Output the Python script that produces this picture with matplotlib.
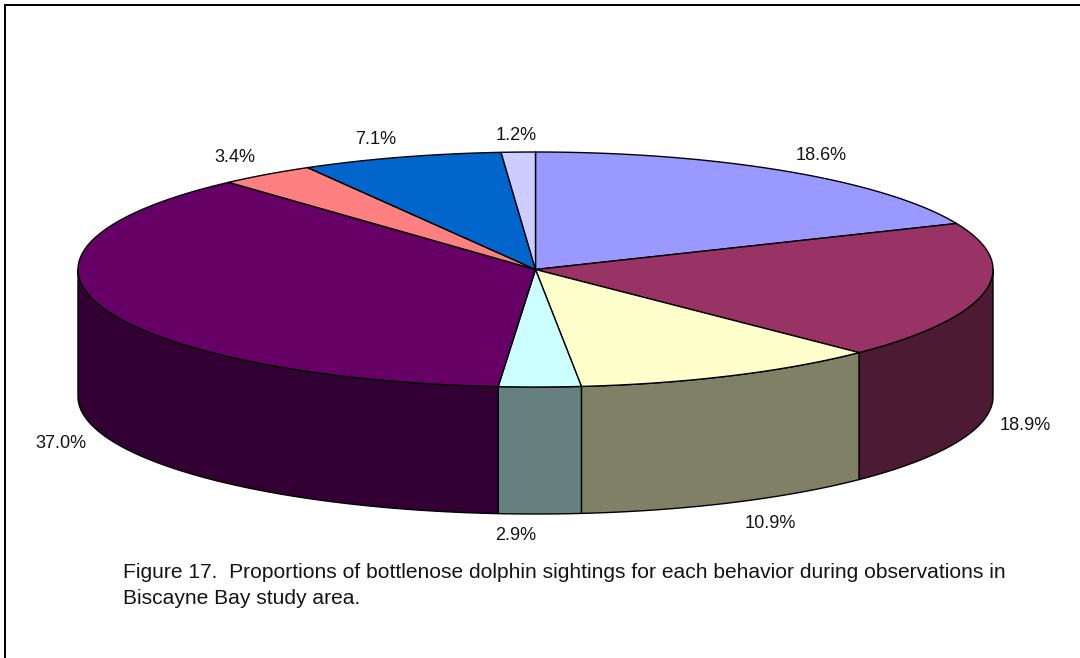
import numpy as np
import matplotlib
matplotlib.use("Agg")
import matplotlib.pyplot as plt
from matplotlib.patches import Polygon

plt.rcParams['font.family'] = ['Liberation Sans', 'DejaVu Sans']

# Share of sightings per behavior, clockwise from twelve o'clock
labels = ["18.6%", "18.9%", "10.9%", "2.9%", "37.0%", "3.4%", "7.1%", "1.2%"]
shares = [18.6, 18.9, 10.9, 2.9, 37.0, 3.4, 7.1, 1.2]
top_colors = ["#9999FF", "#993366", "#FFFFCC", "#CCFFFF",
              "#660066", "#FF8080", "#0066CC", "#CCCCFF"]
side_colors = ["#4D4D80", "#4D1A33", "#808066", "#668080",
               "#330033", "#804040", "#003366", "#666680"]
label_pos = [(821, 155), (1025, 425), (770, 523), (516, 535),
             (61, 443), (234.5, 158), (375.5, 140), (516, 135)]
caption = ("Figure 17.  Proportions of bottlenose dolphin sightings for each behavior during observations in\n"
           "Biscayne Bay study area.")
TEXT_COLOR = "#141414"

# Projection of the tilted disc, in figure pixels
CX, CY, RX, RY, DEPTH = 535.5, 269.5, 457.5, 117.5, 127.0

def rim(theta):
    """Ellipse points for angles measured clockwise from the top."""
    return CX + RX * np.sin(theta), CY - RY * np.cos(theta)

fig = plt.figure(figsize=(10.8, 6.58), dpi=100, facecolor="white")
ax = fig.add_axes([0, 0, 1, 1])
ax.set_xlim(0, 1080)
ax.set_ylim(658, 0)
ax.axis("off")

# Outer frame: heavy top and left rules, hairline on the right, open at the bottom
ax.plot([5, 5, 1080], [658, 5, 5], color="black", lw=1.44, solid_joinstyle="miter", zorder=1)
ax.plot([1079.5, 1079.5], [6, 658], color="#C8C8C8", lw=0.72, zorder=1)

edges = np.cumsum([0.0] + shares) / sum(shares) * 2 * np.pi

# Visible outer wall: only the front half of the disc
for a, b, col in zip(edges[:-1], edges[1:], side_colors):
    lo, hi = max(a, np.pi / 2), min(b, 3 * np.pi / 2)
    if hi <= lo:
        continue
    t = np.linspace(lo, hi, 200)
    x, y = rim(t)
    pts = np.r_[np.c_[x, y], np.c_[x[::-1], y[::-1] + DEPTH]]
    ax.add_patch(Polygon(pts, closed=True, fc=col, ec="black", lw=1.0, joinstyle="round", zorder=2))

# Top face wedges
for a, b, col in zip(edges[:-1], edges[1:], top_colors):
    t = np.linspace(a, b, 300)
    x, y = rim(t)
    pts = np.r_[[[CX, CY]], np.c_[x, y]]
    ax.add_patch(Polygon(pts, closed=True, fc=col, ec="black", lw=1.0, joinstyle="round", zorder=3))

for (lx, ly), s in zip(label_pos, labels):
    ax.text(lx, ly, s, fontsize=13.1, ha="center", va="center", color=TEXT_COLOR, zorder=4)

ax.text(123, 585.5, caption, fontsize=15.1, ha="left", va="center", color=TEXT_COLOR,
        linespacing=1.46, zorder=4)

fig.savefig("out.png", dpi=100, facecolor="white")
